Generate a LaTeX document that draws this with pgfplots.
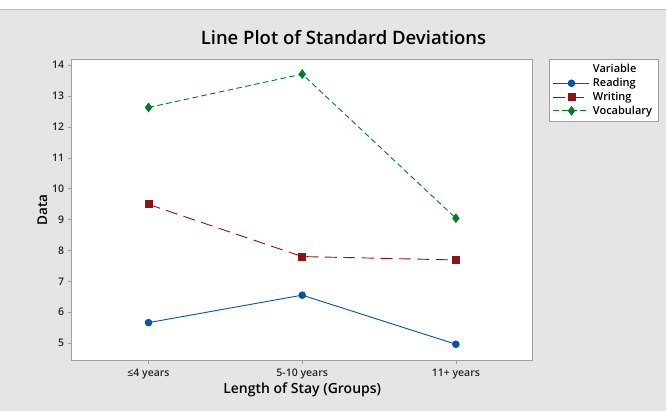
\documentclass[border=0pt]{standalone}
\usepackage{pgfplots}
\pgfplotsset{compat=1.18}
\usetikzlibrary{calc,backgrounds}
\usepackage{fontspec}
\setmainfont{Open Sans}[BoldFont={Open Sans Semibold}]

\definecolor{bgcol}{RGB}{229,229,229}
\definecolor{framecol}{RGB}{160,160,160}
\definecolor{readcol}{RGB}{0,84,166}
\definecolor{writecol}{RGB}{140,20,20}
\definecolor{vocabcol}{RGB}{0,125,40}

\begin{document}
\begin{tikzpicture}
\begin{axis}[
    name=ax,
    scale only axis,
    width=461pt, height=301pt,
    xmin=-0.5, xmax=2.5,
    ymin=4.44, ymax=14.19,
    xtick={0,1,2},
    xticklabels={≤4 years,5-10 years,11+ years},
    ytick={5,6,...,14},
    xtick pos=left, ytick pos=left,
    tick align=outside,
    major tick length=4pt,
    tick style={framecol, thin},
    axis line style={framecol, line width=0.8pt},
    axis background/.style={fill=white},
    ticklabel style={font=\bfseries\fontsize{10.5}{12}\selectfont, text=black!85},
    /pgf/number format/assume math mode=true,
    xticklabel style={yshift=-1pt},
    xlabel={\bfseries\fontsize{14}{16}\selectfont Length of Stay (Groups)},
    ylabel={\bfseries\fontsize{13.5}{16}\selectfont Data},
    xlabel style={yshift=3pt},
    ylabel style={yshift=-2pt},
    legend style={at={(1.035,1.0)}, anchor=north west,
        draw=framecol, fill=white, font=\bfseries\fontsize{11}{13}\selectfont,
        row sep=0pt, inner xsep=4pt, inner ysep=3pt,
        /tikz/every odd column/.append style={column sep=1pt}},
    legend cell align=left,
    legend image code/.code={%
        \draw[mark repeat=2,mark phase=2,#1] plot coordinates {(0pt,0pt) (18pt,0pt) (36pt,0pt)};},
]
\addlegendimage{white, mark=none}
\addlegendentry{Variable}

\addplot[readcol, line width=0.9pt, mark=*, mark size=3.3pt, mark options={solid}]
    coordinates {(0,5.66) (1,6.55) (2,4.96)};
\addlegendentry{Reading}

\addplot[writecol, line width=0.9pt, dash pattern=on 12pt off 6.5pt, mark=square*, mark size=3.5pt, mark options={solid}]
    coordinates {(0,9.49) (1,7.80) (2,7.69)};
\addlegendentry{Writing}

\addplot[vocabcol, line width=0.9pt, dash pattern=on 5.5pt off 3.5pt, mark=diamond*, mark size=4.2pt, mark options={solid}]
    coordinates {(0,12.63) (1,13.71) (2,9.04)};
\addlegendentry{Vocabulary}
\end{axis}

\coordinate (O) at (ax.south west);
\path[use as bounding box] ($(O)+(-71.7pt,-50.7pt)$) rectangle ($(O)+(594.3pt,360.3pt)$);
\begin{pgfonlayer}{background}
\fill[bgcol] ($(O)+(-71.7pt,-50.7pt)$) rectangle ($(O)+(594.3pt,351.3pt)$);
\draw[framecol!70] ($(O)+(-71.7pt,351.3pt)$) -- ($(O)+(594.3pt,351.3pt)$);
\end{pgfonlayer}
\node[font=\bfseries\fontsize{18.5}{22}\selectfont] at ($(O)+(271.8pt,322.3pt)$) {Line Plot of Standard Deviations};
\end{tikzpicture}
\end{document}
